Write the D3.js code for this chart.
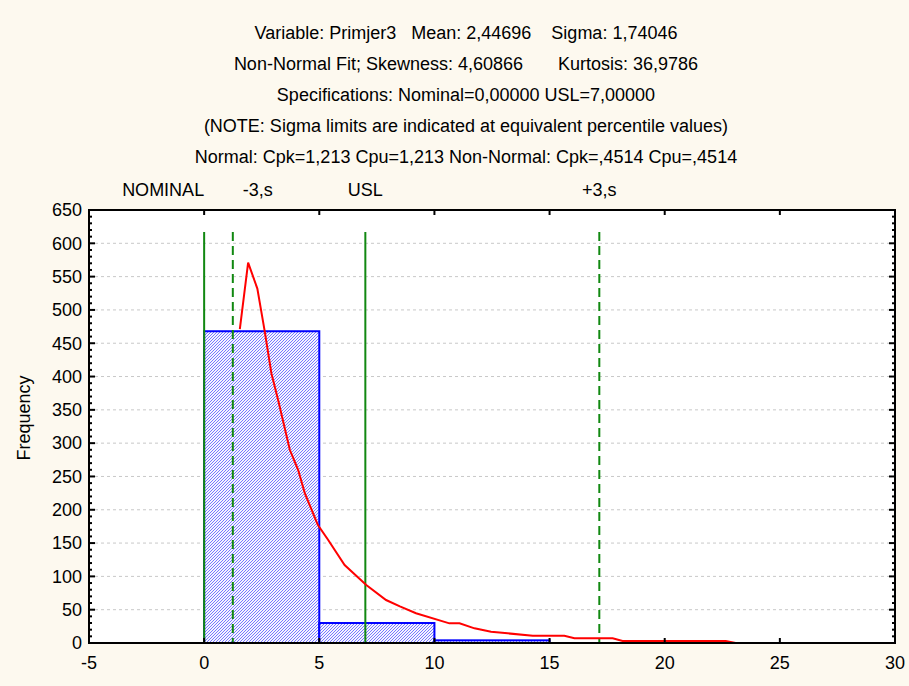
<!DOCTYPE html>
<html lang="en">
<head>
    <meta charset="UTF-8">
    <title>Process capability histogram</title>
    <script src="https://cdn.jsdelivr.net/npm/d3@7/dist/d3.min.js"></script>
    <style>
        body { margin: 0; background: #fdf9ef; }
        text { font-family: "Liberation Sans", Arial, sans-serif; fill: #000; }
    </style>
</head>
<body>
<script>
    // header text
    var titleLines = [
        "Variable: Primjer3   Mean: 2,44696    Sigma: 1,74046",
        "Non-Normal Fit; Skewness: 4,60866       Kurtosis: 36,9786",
        "Specifications: Nominal=0,00000 USL=7,00000",
        "(NOTE: Sigma limits are indicated at equivalent percentile values)",
        "Normal: Cpk=1,213 Cpu=1,213 Non-Normal: Cpk=,4514 Cpu=,4514"
    ];

    // histogram bins
    var binStart = [-5, 0, 5, 10];
    var binEnd = [0, 5, 10, 15];
    var binCount = [0, 468, 30, 4];

    // fitted (non-normal) curve
    var curveX = [1.55, 1.91, 2.31, 2.62, 2.92, 3.21, 3.72, 4.08, 4.37, 4.94, 5.38, 6.10, 7.04, 7.90, 8.50, 9.20, 10.65, 11.09, 11.74, 12.46, 13.18, 14.27, 15.64, 16.08, 17.74, 18.17, 22.65, 23.08, 30];
    var curveY = [471, 571, 532, 470, 405, 365, 290, 260, 225, 177, 155, 117, 87, 64.5, 55, 44.6, 29.5, 29.5, 22, 17, 14.5, 11, 11, 7, 7, 3, 3, 0, 0];

    // spec / sigma lines
    var specName = ["NOMINAL", "-3,s", "USL", "+3,s"];
    var specValue = [0, 1.245, 7, 17.16];
    var specDashed = [false, true, false, true];
    var specTop = 617;

    var xTicks = [-5, 0, 5, 10, 15, 20, 25, 30];
    var yTicks = d3.range(0, 651, 50);
    var yMinor = d3.range(0, 651, 10);

    // 画布
    var width = 909;
    var height = 686;
    var pLeft = 89, pTop = 210, pRight = 895, pBottom = 643;

    var svg = d3.select("body")
        .append("svg")
        .attr("width", width)
        .attr("height", height);

    svg.append("rect")
        .attr("width", width)
        .attr("height", height)
        .attr("fill", "#fdf9ef");

    var x = d3.scaleLinear().domain([-5, 30]).range([pLeft, pRight]);
    var y = d3.scaleLinear().domain([0, 650]).range([pBottom, pTop]);

    // hatch pattern for bars
    var defs = svg.append("defs");
    var pat = defs.append("pattern")
        .attr("id", "hatch")
        .attr("patternUnits", "userSpaceOnUse")
        .attr("width", 3)
        .attr("height", 3);
    pat.append("rect").attr("width", 3).attr("height", 3).attr("fill", "#f4f4ff");
    pat.append("path")
        .attr("d", "M-1,1 l2,-2 M0,3 l3,-3 M2,4 l2,-2")
        .attr("stroke", "#6a6aff")
        .attr("stroke-width", 0.9);

    // plot area
    svg.append("rect")
        .attr("x", pLeft).attr("y", pTop)
        .attr("width", pRight - pLeft).attr("height", pBottom - pTop)
        .attr("fill", "#fff");

    // 网格线
    svg.selectAll(".grid")
        .data(yTicks.filter(function (d) { return d > 0 && d < 650; }))
        .enter()
        .append("line")
        .attr("x1", pLeft).attr("x2", pRight)
        .attr("y1", function (d) { return y(d); })
        .attr("y2", function (d) { return y(d); })
        .attr("stroke", "#c8c8c8")
        .attr("stroke-dasharray", "3,3");

    // bars
    svg.selectAll(".bar")
        .data(binCount)
        .enter()
        .append("rect")
        .attr("x", function (d, i) { return x(binStart[i]); })
        .attr("y", function (d) { return y(d); })
        .attr("width", function (d, i) { return x(binEnd[i]) - x(binStart[i]); })
        .attr("height", function (d) { return pBottom - y(d); })
        .attr("fill", "url(#hatch)")
        .attr("stroke", "#0000ff")
        .attr("stroke-width", 2);

    // spec lines
    svg.selectAll(".spec")
        .data(specValue)
        .enter()
        .append("line")
        .attr("x1", function (d) { return x(d); })
        .attr("x2", function (d) { return x(d); })
        .attr("y1", y(specTop))
        .attr("y2", pBottom)
        .attr("stroke", "#118811")
        .attr("stroke-width", 2)
        .attr("stroke-dasharray", function (d, i) { return specDashed[i] ? "9,5" : null; });

    // fitted curve
    var line = d3.line()
        .x(function (d, i) { return x(curveX[i]); })
        .y(function (d) { return y(d); });
    svg.append("path")
        .datum(curveY)
        .attr("d", line)
        .attr("fill", "none")
        .attr("stroke", "#ff0000")
        .attr("stroke-width", 2);

    // frame
    svg.append("rect")
        .attr("x", pLeft).attr("y", pTop)
        .attr("width", pRight - pLeft).attr("height", pBottom - pTop)
        .attr("fill", "none")
        .attr("stroke", "#000")
        .attr("stroke-width", 2);

    // ticks (inward)
    var tk = svg.append("g").attr("stroke", "#000").attr("stroke-width", 2);
    xTicks.forEach(function (d) {
        tk.append("line").attr("x1", x(d)).attr("x2", x(d)).attr("y1", pBottom).attr("y2", pBottom - 5);
        tk.append("line").attr("x1", x(d)).attr("x2", x(d)).attr("y1", pTop).attr("y2", pTop + 5);
    });
    yMinor.forEach(function (d) {
        var len = d % 50 === 0 ? 6 : 3;
        tk.append("line").attr("x1", pLeft).attr("x2", pLeft + len).attr("y1", y(d)).attr("y2", y(d));
        tk.append("line").attr("x1", pRight).attr("x2", pRight - len).attr("y1", y(d)).attr("y2", y(d));
    });

    // tick labels
    svg.selectAll(".xl")
        .data(xTicks)
        .enter()
        .append("text")
        .attr("x", function (d) { return x(d); })
        .attr("y", 669)
        .attr("text-anchor", "middle")
        .style("font-size", "18px")
        .text(function (d) { return d; });

    svg.selectAll(".yl")
        .data(yTicks)
        .enter()
        .append("text")
        .attr("x", 82)
        .attr("y", function (d) { return y(d); })
        .attr("dy", "0.35em")
        .attr("text-anchor", "end")
        .style("font-size", "18px")
        .text(function (d) { return d; });

    svg.append("text")
        .attr("transform", "translate(30," + 418 + ") rotate(-90)")
        .attr("text-anchor", "middle")
        .style("font-size", "18px")
        .text("Frequency");

    // header
    svg.selectAll(".title")
        .data(titleLines)
        .enter()
        .append("text")
        .attr("x", 466)
        .attr("y", function (d, i) { return 39 + i * 31; })
        .attr("text-anchor", "middle")
        .style("white-space", "pre")
        .style("font-size", "18px")
        .text(function (d) { return d; });

    // spec labels
    var anchors = ["end", "start", "middle", "middle"];
    var offs = [0, 10, 0, 0];
    svg.selectAll(".sl")
        .data(specName)
        .enter()
        .append("text")
        .attr("x", function (d, i) { return x(specValue[i]) + offs[i]; })
        .attr("y", 196)
        .attr("text-anchor", function (d, i) { return anchors[i]; })
        .style("font-size", "18px")
        .text(function (d) { return d; });
</script>
</body>
</html>
